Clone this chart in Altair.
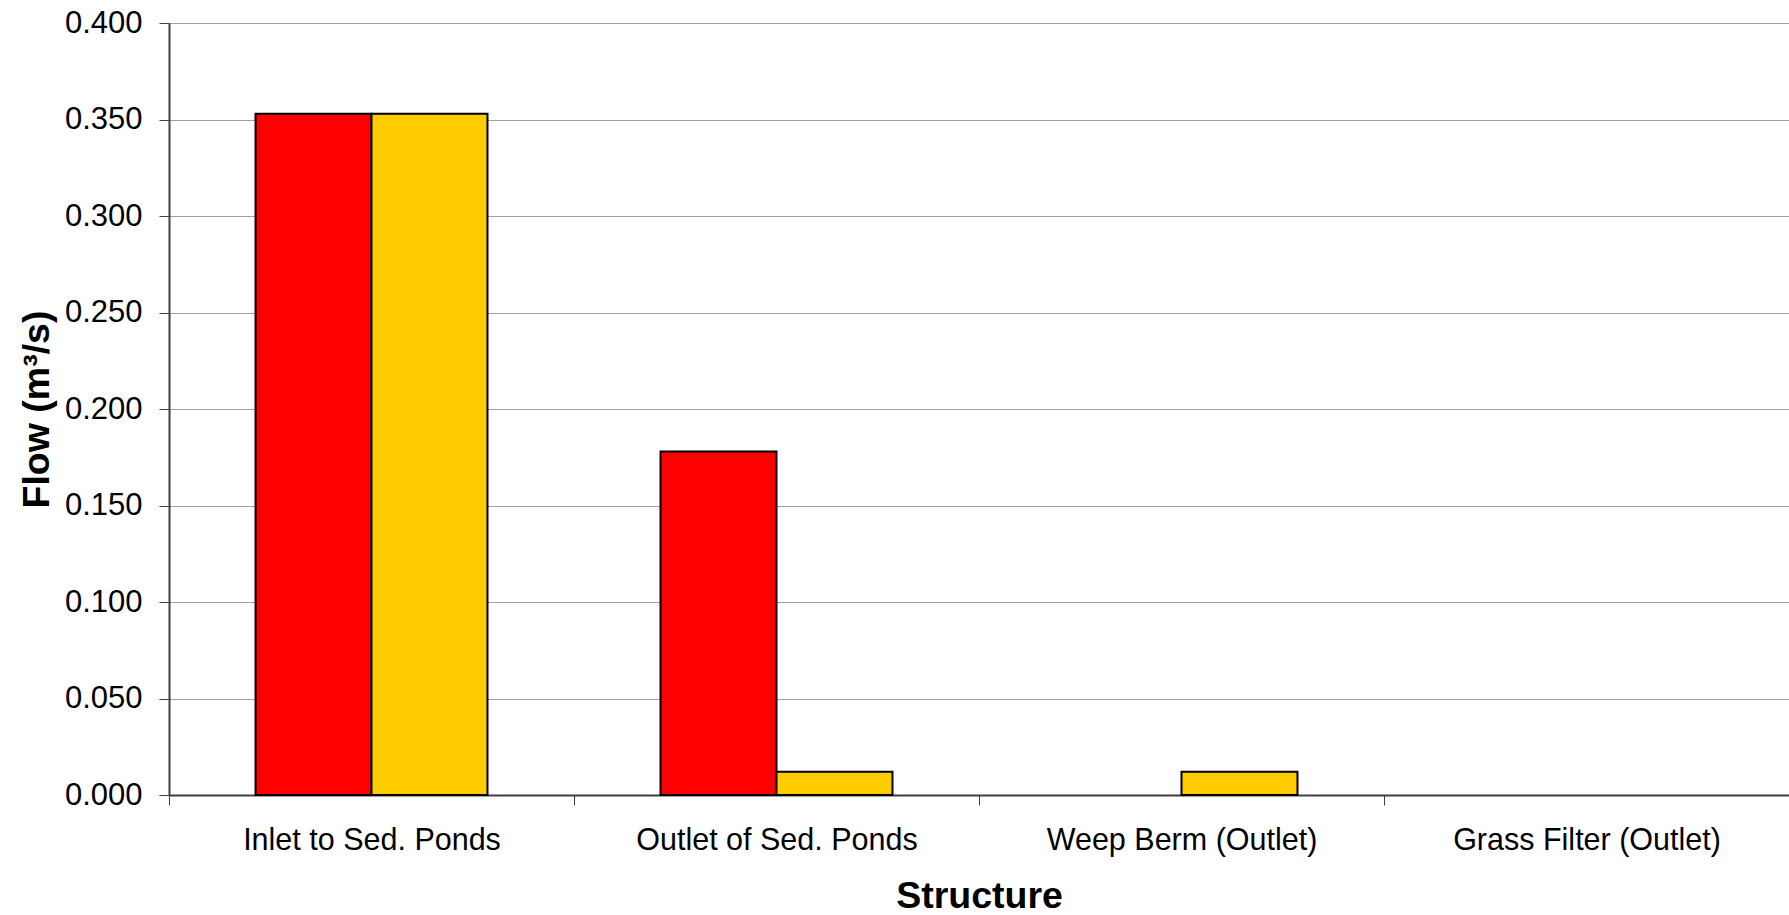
import altair as alt
import pandas as pd

# Flow through each drainage structure, two runs side by side
structures = [
    "Inlet to Sed. Ponds",
    "Outlet of Sed. Ponds",
    "Weep Berm (Outlet)",
    "Grass Filter (Outlet)",
]
series_names = ["Run 1", "Run 2"]
run1_flow = [0.353, 0.178, 0.0, 0.0]
run2_flow = [0.353, 0.012, 0.012, 0.0]
series_colors = ["#FF0000", "#FFCC00"]
y_ticks = [0.0, 0.05, 0.10, 0.15, 0.20, 0.25, 0.30, 0.35, 0.40]

rows = []
for name, values in zip(series_names, [run1_flow, run2_flow]):
    for s, v in zip(structures, values):
        rows.append({"structure": s, "series": name, "flow": v})
df = pd.DataFrame(rows)

FONT = "Liberation Sans"
PLOT_W = 1620
PLOT_H = 772

bars = (
    alt.Chart(df)
    .transform_filter("datum.flow > 0")
    .mark_bar(stroke="black", strokeWidth=2)
    .encode(
        x=alt.X(
            "structure:N",
            scale=alt.Scale(domain=structures, paddingInner=0, paddingOuter=0),
            axis=alt.Axis(
                title="Structure",
                labelAngle=0,
                labelLimit=0,
                tickBand="extent",
                tickSize=10,
                tickColor="#404040",
                tickWidth=1,
                domainColor="#404040",
                domainWidth=2,
                labelFontSize=30.5,
                labelColor="black",
                labelPadding=20,
                titleFontSize=37.5,
                titleFontWeight="bold",
                titleColor="black",
                titleBaseline="alphabetic",
                titleY=112,
                grid=False,
            ),
        ),
        xOffset=alt.XOffset(
            "series:N",
            scale=alt.Scale(domain=series_names, paddingInner=0, paddingOuter=0.746),
        ),
        y=alt.Y(
            "flow:Q",
            scale=alt.Scale(domain=[0, 0.4], nice=False),
            axis=alt.Axis(
                title="Flow (m³/s)",
                values=y_ticks,
                format=".3f",
                tickSize=10,
                tickColor="#404040",
                tickWidth=1,
                domainColor="#404040",
                domainWidth=2,
                labelFontSize=31,
                labelColor="black",
                labelPadding=17,
                titleFontSize=37.5,
                titleFontWeight="bold",
                titleColor="black",
                titleBaseline="alphabetic",
                titleX=-121,
                titleY=PLOT_H / 2,
                grid=True,
                gridColor="#a0a0a0",
                gridWidth=1,
            ),
        ),
        color=alt.Color(
            "series:N",
            scale=alt.Scale(domain=series_names, range=series_colors),
            legend=None,
        ),
    )
)

chart = (
    bars.properties(
        width=PLOT_W,
        height=PLOT_H,
        autosize=alt.AutoSizeParams(type="none"),
        padding={"left": 169, "top": 23, "right": 0, "bottom": 120},
        background="white",
    )
    .configure_view(stroke=None)
    .configure_axis(labelFont=FONT, titleFont=FONT)
)

chart.save("out.html", embed_options={"renderer": "svg", "actions": False})
